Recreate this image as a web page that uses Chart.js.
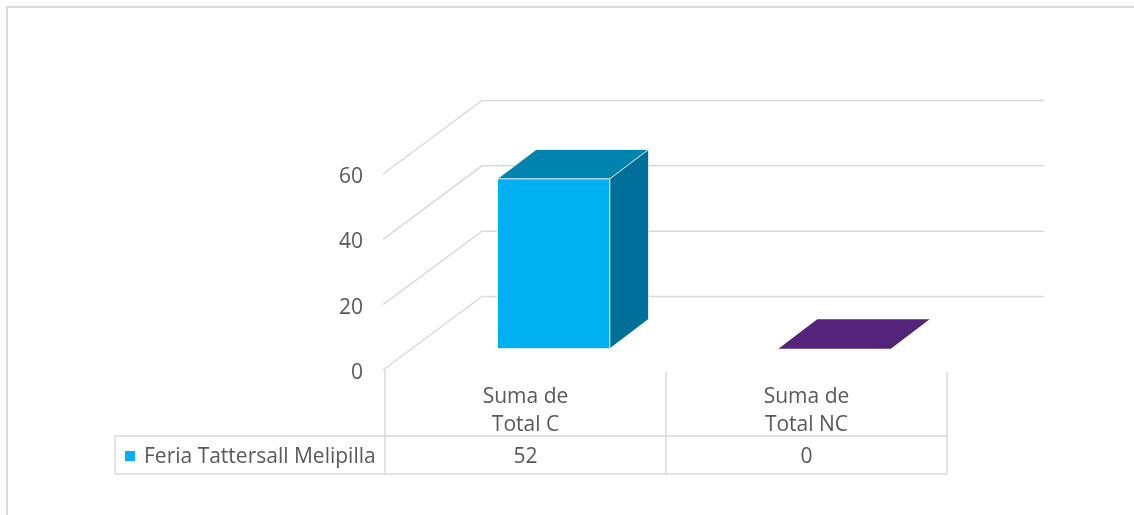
<!DOCTYPE html>
<html lang="es">
<head>
    <meta charset="UTF-8">
    <title>Feria Tattersall Melipilla</title>
    <script src="https://cdn.jsdelivr.net/npm/chart.js"></script>
    <style>
        html, body { margin: 0; padding: 0; background: #ffffff; }
        .container { width: 1134px; height: 515px; }
    </style>
</head>
<body>
    <div class="container">
        <canvas id="myChart" width="1134" height="515"></canvas>
    </div>

<script>
    // data
    const categories = [['Suma de', 'Total C'], ['Suma de', 'Total NC']];
    const seriesName = 'Feria Tattersall Melipilla';
    const values = [52, 0];
    const yTicks = [0, 20, 40, 60];

    const frontColors = ['#00B0F0', '#7030A0'];
    const topColors = ['#0083AE', '#55247A'];
    const sideColors = ['#00709A', '#4A1F6B'];

    const FONT = "'Open Sans', sans-serif";
    const TEXT = '#595959';
    const GRID = '#D9D9D9';
    const DEPTH = { x: 97, y: -73.5 };   // full depth of the back wall
    const BAR_FRONT = 0.29, BAR_BACK = 0.69;

    // 3d walls, bars and the data table under the plot
    const box3d = {
        id: 'box3d',
        beforeDraw(chart) {
            const ctx = chart.ctx;
            ctx.save();
            ctx.strokeStyle = GRID;
            ctx.lineWidth = 2;
            ctx.beginPath();
            ctx.moveTo(7, chart.height);
            ctx.lineTo(7, 7);
            ctx.lineTo(chart.width, 7);
            ctx.stroke();
            ctx.restore();
        },
        beforeDatasetsDraw(chart) {
            const ctx = chart.ctx;
            const area = chart.chartArea;
            const y = chart.scales.y;
            ctx.save();
            ctx.strokeStyle = GRID;
            ctx.lineWidth = 1.5;
            y.ticks.forEach(t => {
                const py = y.getPixelForValue(t.value);
                ctx.beginPath();
                ctx.moveTo(area.left - 2, py);
                ctx.lineTo(area.left + DEPTH.x, py + DEPTH.y);
                ctx.lineTo(area.right + DEPTH.x, py + DEPTH.y);
                ctx.stroke();
            });
            ctx.restore();
        },
        afterDatasetsDraw(chart) {
            const ctx = chart.ctx;
            const meta = chart.getDatasetMeta(0);
            const fx = DEPTH.x * BAR_FRONT, fy = DEPTH.y * BAR_FRONT;
            const bx = DEPTH.x * BAR_BACK, by = DEPTH.y * BAR_BACK;
            ctx.save();
            ctx.lineJoin = 'round';
            meta.data.forEach((bar, i) => {
                const l = bar.x - bar.width / 2 + fx;
                const r = bar.x + bar.width / 2 + fx;
                const t = bar.y + fy;
                const b = bar.base + fy;
                const dx = bx - fx, dy = by - fy;

                // front
                if (b - t > 0.5) {
                    ctx.fillStyle = frontColors[i];
                    ctx.fillRect(l, t, r - l, b - t);
                    // right side
                    ctx.fillStyle = sideColors[i];
                    ctx.beginPath();
                    ctx.moveTo(r, t);
                    ctx.lineTo(r + dx, t + dy);
                    ctx.lineTo(r + dx, b + dy);
                    ctx.lineTo(r, b);
                    ctx.closePath();
                    ctx.fill();
                }
                // top
                ctx.fillStyle = topColors[i];
                ctx.beginPath();
                ctx.moveTo(l, t);
                ctx.lineTo(l + dx, t + dy);
                ctx.lineTo(r + dx, t + dy);
                ctx.lineTo(r, t);
                ctx.closePath();
                ctx.fill();

                if (b - t > 0.5) {
                    ctx.strokeStyle = 'rgba(255,255,255,0.85)';
                    ctx.lineWidth = 1;
                    ctx.beginPath();
                    ctx.rect(l, t, r - l, b - t);
                    ctx.moveTo(l, t);
                    ctx.lineTo(l + dx, t + dy);
                    ctx.lineTo(r + dx, t + dy);
                    ctx.lineTo(r, t);
                    ctx.moveTo(r + dx, t + dy);
                    ctx.lineTo(r + dx, b + dy);
                    ctx.lineTo(r, b);
                    ctx.stroke();
                }
            });
            ctx.restore();
        },
        afterDraw(chart) {
            const ctx = chart.ctx;
            const area = chart.chartArea;
            const x = chart.scales.x;
            const half = (x.getPixelForValue(1) - x.getPixelForValue(0)) / 2;
            const rowTop = 436, rowBottom = 474, tableLeft = 115;

            ctx.save();
            ctx.strokeStyle = GRID;
            ctx.lineWidth = 1.5;
            ctx.beginPath();
            ctx.moveTo(area.left, area.bottom);
            ctx.lineTo(area.left, rowBottom);
            categories.forEach((c, i) => {
                const cx = x.getPixelForValue(i) + half;
                ctx.moveTo(cx, area.bottom + 2);
                ctx.lineTo(cx, rowBottom);
            });
            ctx.moveTo(tableLeft, rowTop);
            ctx.lineTo(area.right, rowTop);
            ctx.moveTo(tableLeft, rowBottom);
            ctx.lineTo(area.right, rowBottom);
            ctx.moveTo(tableLeft, rowTop);
            ctx.lineTo(tableLeft, rowBottom);
            ctx.stroke();

            const midY = (rowTop + rowBottom) / 2 + 2;
            ctx.font = '21px ' + FONT;
            ctx.fillStyle = TEXT;
            ctx.textBaseline = 'middle';
            ctx.textAlign = 'center';
            values.forEach((v, i) => {
                ctx.fillText(String(v), x.getPixelForValue(i), midY);
            });

            // legend key
            ctx.fillStyle = frontColors[0];
            ctx.fillRect(125, 451, 10, 10);
            ctx.fillStyle = TEXT;
            ctx.textAlign = 'left';
            ctx.fillText(seriesName, 144, midY);
            ctx.restore();
        }
    };

    let myChart;

    window.onload = function() {
        const ctx = document.getElementById('myChart').getContext('2d');
        myChart = new Chart(ctx, {
            type: 'bar',
            data: {
                labels: categories,
                datasets: [{
                    label: seriesName,
                    data: values,
                    backgroundColor: 'rgba(0,0,0,0)',
                    borderWidth: 0,
                    categoryPercentage: 1,
                    barPercentage: 0.4
                }]
            },
            options: {
                responsive: false,
                animation: false,
                layout: {
                    padding: { top: 174, right: 187, left: 0, bottom: 0 }
                },
                scales: {
                    x: {
                        grid: { display: false, drawTicks: false },
                        border: { display: false },
                        ticks: {
                            color: TEXT,
                            font: { family: FONT, size: 21, lineHeight: '28px' },
                            padding: 13,
                            maxRotation: 0,
                            autoSkip: false
                        },
                        afterFit: s => { s.height = 145; }
                    },
                    y: {
                        min: 0,
                        max: 60,
                        afterBuildTicks: s => { s.ticks = yTicks.map(v => ({ value: v })); },
                        grid: { display: false, drawTicks: false },
                        border: { display: false },
                        ticks: {
                            color: TEXT,
                            font: { family: FONT, size: 21 },
                            padding: 22,
                            labelOffset: 3
                        },
                        afterFit: s => { s.width = 385; }
                    }
                },
                plugins: {
                    legend: { display: false },
                    tooltip: { enabled: false }
                }
            },
            plugins: [box3d]
        });
    };
</script>
</body>
</html>
